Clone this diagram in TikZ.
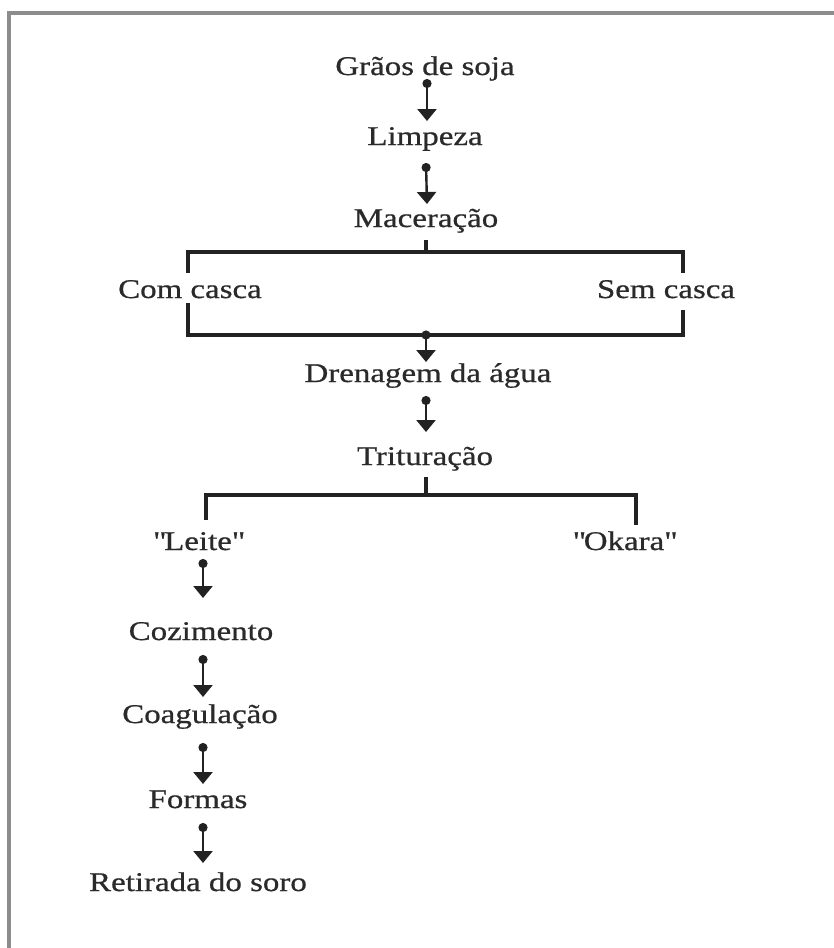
\documentclass[tikz,border=0pt]{standalone}
\usepackage{fontspec}
\setmainfont{Liberation Serif}[FakeStretch=1.22,FakeBold=0.7]
\usetikzlibrary{arrows.meta}
\definecolor{ink}{HTML}{222222}
\definecolor{txt}{HTML}{2A2A2A}
\definecolor{framegray}{HTML}{8C8C8C}
\begin{document}
\begin{tikzpicture}[x=1pt,y=-1pt,
  lbl/.style={anchor=base,inner sep=0pt,text=txt,font=\fontsize{27}{32}\selectfont},
  flow/.style={draw=ink,line width=2.4pt,{Circle[length=9pt]}-{Triangle[width=19pt,length=12pt]}},
  bar/.style={draw=ink,line width=3.5pt},
  framebar/.style={draw=framegray,line width=3.5pt}]
\useasboundingbox (0,0) rectangle (834,948);
\fill[white] (0,0) rectangle (834,948);
% page frame (left and top edges)
\draw[framebar] (9,948) -- (9,13) -- (834,13);

% main column
\node[lbl] (graos) at (425,75) {Grãos de soja};
\node[lbl] (limp)  at (425,145) {Limpeza};
\node[lbl] (mac)   at (426,227) {Maceração};
\node[lbl] (com)   at (190,298) {Com casca};
\node[lbl] (sem)   at (666,298) {Sem casca};
\node[lbl] (dren)  at (428,382) {Drenagem da água};
\node[lbl] (trit)  at (425,465) {Trituração};
\node[lbl] (leite) at (198,550) {\textquotedbl Leite\textquotedbl};
\node[lbl] (okara) at (624,550) {\textquotedbl Okara\textquotedbl};
\node[lbl] (coz)   at (201,640) {Cozimento};
\node[lbl] (coag)  at (200,723) {Coagulação};
\node[lbl] (form)  at (198,808) {Formas};
\node[lbl] (ret)   at (198,891) {Retirada do soro};

% junction points on the bracket bars
\coordinate (j1) at (426,252);
\coordinate (j2) at (426,335);
\coordinate (j3) at (426,495);

% arrows of the main column
\draw[flow] ([xshift=2pt,yshift=-4pt]graos.base) -- ([xshift=2pt,yshift=24pt]limp.base);
\draw[flow] ([xshift=1pt,yshift=-18pt]limp.base) -- ([xshift=1pt,yshift=23pt]mac.base);

% split into hulled / dehulled and rejoin
\draw[bar] ([yshift=-13pt]mac.base) -- (j1);
\draw[bar] ([xshift=-2pt,yshift=25pt]com.base) |- (j1) -| ([xshift=17pt,yshift=25pt]sem.base);
\draw[bar] ([xshift=-2pt,yshift=-5pt]com.base) |- (j2) -| ([xshift=17pt,yshift=-12pt]sem.base);
\draw[flow] ([yshift=4.5pt]j2) -- ([xshift=-2pt,yshift=20pt]dren.base);
\draw[flow] ([xshift=-2pt,yshift=-14pt]dren.base) -- ([xshift=1pt,yshift=33pt]trit.base);

% milk / okara split
\draw[bar] ([xshift=1pt,yshift=-12pt]trit.base) -- (j3);
\draw[bar] ([xshift=8pt,yshift=30pt]leite.base) |- (j3) -| ([xshift=12pt,yshift=25pt]okara.base);

% lower column
\draw[flow] ([xshift=5pt,yshift=-9pt]leite.base) -- ([xshift=2pt,yshift=42pt]coz.base);
\draw[flow] ([xshift=2pt,yshift=-15pt]coz.base) -- ([xshift=3pt,yshift=26pt]coag.base);
\draw[flow] ([xshift=3pt,yshift=-20pt]coag.base) -- ([xshift=5pt,yshift=24pt]form.base);
\draw[flow] ([xshift=5pt,yshift=-15pt]form.base) -- ([xshift=5pt,yshift=28pt]ret.base);
\end{tikzpicture}
\end{document}
